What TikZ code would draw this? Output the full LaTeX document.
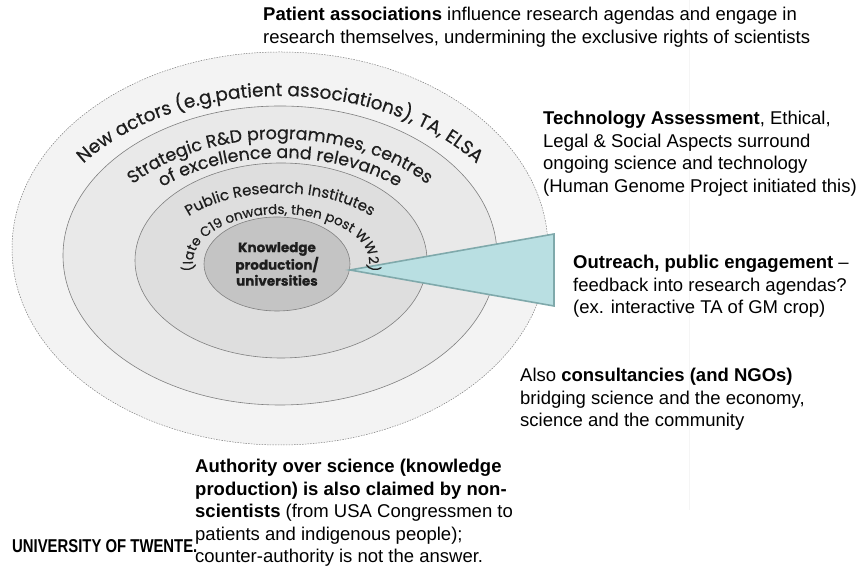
\documentclass[tikz,border=0pt]{standalone}
\usepackage{fontspec}
\setmainfont{Liberation Sans}
\newfontfamily\gothic[FakeBold=0.4]{Poppins}
\usetikzlibrary{decorations.text}
\usetikzlibrary{shapes.geometric}

\definecolor{ringout}{HTML}{F3F3F3}
\definecolor{ringmid}{HTML}{E9E9E9}
\definecolor{ringin}{HTML}{DEDEDE}
\definecolor{core}{HTML}{C4C4C4}
\definecolor{wedge}{HTML}{B9DFE2}
\definecolor{wedgeline}{HTML}{7FA9AB}
\definecolor{ink}{HTML}{1E1E1E}

\newcommand\ringL{\color{ink}\gothic\fontsize{18.5}{18.5}\selectfont}
\newcommand\ringM{\color{ink}\gothic\fontsize{17.5}{17.5}\selectfont}
\newcommand\ringS{\color{ink}\gothic\fontsize{15}{15}\selectfont}
\newcommand\ringT{\color{ink}\gothic\fontsize{13.5}{13.5}\selectfont}

\begin{document}
\begin{tikzpicture}[x=1pt,y=1pt]
  \tikzstyle{ring}=[draw=black!50, line width=0.6pt] % solid grey rings
  \tikzstyle{curved}=[decorate, decoration={text along path, text align=center}] % ring captions
  \tikzstyle{body}=[anchor=north west, inner sep=0pt, align=left, font=\fontsize{18.5}{22.5}\selectfont]
  \useasboundingbox (0,0) rectangle (865,572);
  \draw[black!4] (689,572) -- (689,62);
  % rings, outside in
  \filldraw[draw=black!50, fill=ringout, line width=0.5pt, dash pattern=on 1.5pt off 1.2pt]
    (280,323.5) ellipse [x radius=268, y radius=196.5];
  \filldraw[ring, fill=ringmid] (280,316.5) ellipse [x radius=217, y radius=149.5];
  \filldraw[ring, fill=ringin] (281,311.5) ellipse [x radius=146, y radius=97.5];
  \node[ellipse, ring, fill=core, minimum width=146, minimum height=94, inner sep=0pt,
        align=center, font=\gothic\bfseries\fontsize{13.5}{16}\selectfont, text=ink]
    (know) at (277,308) {Knowledge\\production/\\universities};
  % wedge to the outreach text
  \coordinate (tip) at (350,302);
  \coordinate (wtop) at (554,338);
  \coordinate (wbot) at (554,266);
  \filldraw[draw=wedgeline, fill=wedge, line width=1.6pt, line join=miter] (tip) -- (wtop) -- (wbot) -- cycle;
  % captions along the rings
  \path[curved, decoration={text={|\ringL|New actors (e.g.patient associations), TA, ELSA}}]
    (280,310) ++(180:244 and 166) arc [start angle=180, end angle=0, x radius=244, y radius=166];
  \path[curved, decoration={text={|\ringM|Strategic R{\&}D programmes, centres}}]
    (280,310) ++(180:190 and 123) arc [start angle=180, end angle=0, x radius=190, y radius=123];
  \path[curved, decoration={text={|\ringM|of excellence and relevance}}]
    (280,310) ++(180:170 and 104) arc [start angle=180, end angle=0, x radius=170, y radius=104];
  \path[curved, decoration={text={|\ringS|Public Research Institutes}}]
    (280,310) ++(180:122 and 69) arc [start angle=180, end angle=0, x radius=122, y radius=69];
  \path[curved, decoration={text={|\ringT|(late C19 onwards, then post WW2)}}]
    (281,310) ++(195:88 and 48) arc [start angle=195, end angle=-15, x radius=88, y radius=48];
  % texts round the rings
  \node[body] (pat) at (263,565) {\textbf{Patient associations} influence research agendas and engage in\\research themselves, undermining the exclusive rights of scientists};
  \node[body] (tech) at (543,461) {\textbf{Technology Assessment}, Ethical,\\Legal \& Social Aspects surround\\ongoing science and technology\\(Human Genome Project initiated this)};
  \node[body] (outr) at (573,317) {\textbf{Outreach, public engagement} --\\feedback into research agendas?\\(ex. interactive TA of GM crop)};
  \node[body] (cons) at (520,204) {Also \textbf{consultancies (and NGOs)}\\bridging science and the economy,\\science and the community};
  \node[body] (auth) at (195,113) {\textbf{Authority over science (knowledge}\\\textbf{production) is also claimed by non-}\\\textbf{scientists} (from USA Congressmen to\\patients and indigenous people);\\counter-authority is not the answer.};
  \node[anchor=base west, inner sep=0pt, font=\bfseries\fontsize{18.6}{18.6}\selectfont] (logo) at (12,19)
    {\scalebox{0.8}[1]{UNIVERSITY OF TWENTE.}};
\end{tikzpicture}
\end{document}
